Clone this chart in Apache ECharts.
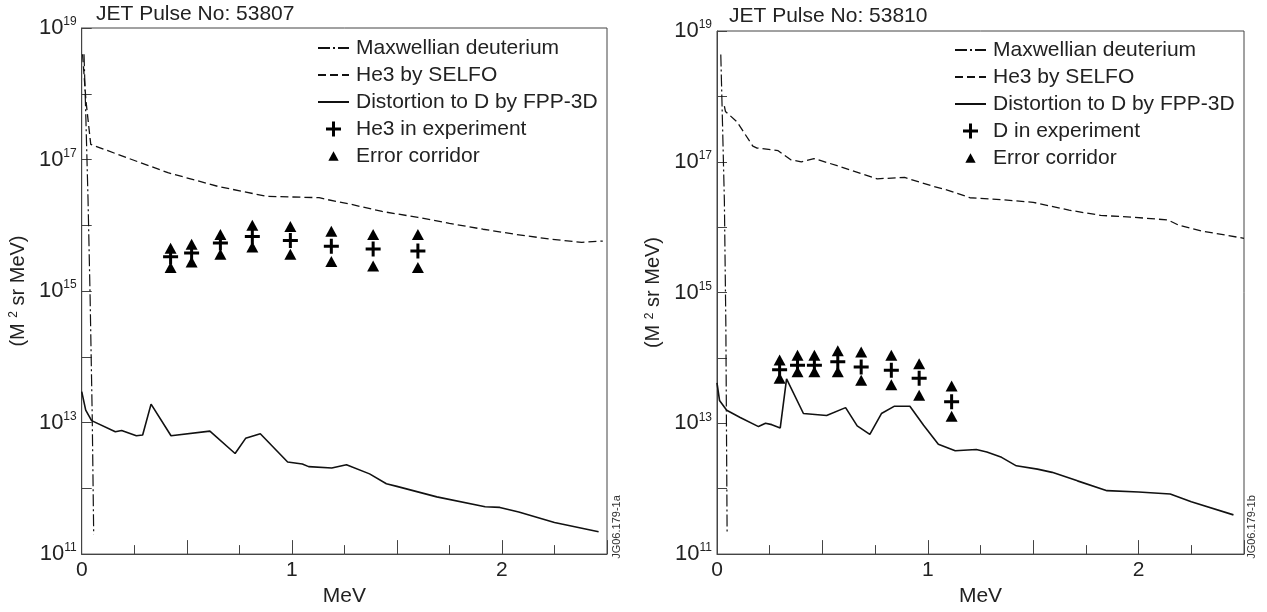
<!DOCTYPE html>
<html>
<head>
<meta charset="utf-8">
<script src="https://cdn.jsdelivr.net/npm/echarts@6/dist/echarts.min.js"></script>
<style>
    html, body { margin: 0; padding: 0; background: #fff; }
    #chart-a { position: absolute; left: 0; top: 0; width: 634px; height: 612px; }
    #chart-b { position: absolute; left: 634px; top: 0; width: 633px; height: 612px; }
</style>
</head>
<body>
<div id="chart-a"></div>
<div id="chart-b"></div>
<script>
// values: [energy MeV, log10 of distribution]
var maxwellA = [[0.011, 18.6], [0.02, 17.6], [0.03, 16.4], [0.04, 14.9], [0.05, 13.1], [0.057, 11.3]];
var selfoA = [[0.004, 18.6], [0.02, 17.9], [0.043, 17.23], [0.17, 17.08], [0.41, 16.80], [0.65, 16.59],
    [0.88, 16.44], [1.13, 16.42], [1.17, 16.39], [1.28, 16.32], [1.43, 16.21], [1.60, 16.12], [1.75, 16.03],
    [1.91, 15.94], [2.07, 15.86], [2.23, 15.79], [2.38, 15.74], [2.48, 15.76]];
var fppA = [[0, 13.47], [0.019, 13.19], [0.047, 13.03], [0.16, 12.86], [0.19, 12.88], [0.26, 12.80],
    [0.29, 12.81], [0.33, 13.28], [0.425, 12.80], [0.61, 12.87], [0.73, 12.53], [0.78, 12.76], [0.85, 12.83],
    [0.98, 12.40], [1.05, 12.37], [1.08, 12.33], [1.19, 12.31], [1.26, 12.36], [1.37, 12.22], [1.45, 12.07],
    [1.5, 12.03], [1.69, 11.87], [1.92, 11.72], [1.99, 11.71], [2.08, 11.64], [2.25, 11.48], [2.46, 11.34]];
var expEnergyA = [0.423, 0.523, 0.66, 0.812, 0.993, 1.188, 1.387, 1.60];
var expValueA = [15.52, 15.58, 15.73, 15.83, 15.77, 15.68, 15.64, 15.61];
var errHighA = [15.65, 15.71, 15.86, 16.0, 15.98, 15.91, 15.86, 15.86];
var errLowA = [15.36, 15.44, 15.56, 15.67, 15.56, 15.45, 15.38, 15.36];

var maxwellB = [[0.018, 18.64], [0.026, 17.6], [0.035, 16.4], [0.042, 14.5], [0.048, 11.3]];
var selfoB = [[0.035, 17.85], [0.04, 17.77], [0.095, 17.61], [0.17, 17.24], [0.19, 17.21], [0.29, 17.17],
    [0.35, 17.03], [0.40, 17.0], [0.46, 17.05], [0.57, 16.94], [0.76, 16.74], [0.89, 16.76], [1.03, 16.62],
    [1.10, 16.56], [1.20, 16.45], [1.35, 16.42], [1.50, 16.38], [1.67, 16.26], [1.82, 16.18], [1.98, 16.15],
    [2.14, 16.11], [2.19, 16.03], [2.30, 15.94], [2.50, 15.83]];
var fppB = [[0, 13.62], [0.012, 13.35], [0.046, 13.2], [0.11, 13.09], [0.197, 12.95], [0.23, 13.0],
    [0.26, 12.98], [0.30, 12.93], [0.33, 13.68], [0.41, 13.15], [0.52, 13.12], [0.61, 13.24], [0.665, 12.96],
    [0.725, 12.83], [0.78, 13.15], [0.84, 13.26], [0.915, 13.26], [0.98, 12.97], [1.05, 12.68], [1.13, 12.58],
    [1.23, 12.6], [1.28, 12.56], [1.35, 12.48], [1.42, 12.35], [1.52, 12.3], [1.59, 12.25], [1.71, 12.12],
    [1.85, 11.97], [2.0, 11.95], [2.15, 11.92], [2.25, 11.8], [2.45, 11.6]];
var expEnergyB = [0.297, 0.382, 0.462, 0.573, 0.684, 0.827, 0.959, 1.113];
var expValueB = [13.82, 13.89, 13.89, 13.94, 13.86, 13.81, 13.69, 13.33];
var errHighB = [13.97, 14.04, 14.04, 14.11, 14.09, 14.04, 13.91, 13.57];
var errLowB = [13.69, 13.79, 13.79, 13.79, 13.66, 13.59, 13.43, 13.11];

var FONT = "'Liberation Sans', Arial, Helvetica, sans-serif";
var INK = '#111';
var CROSS = 'path://M0,6H15V9H0Z M6,0H9V15H6Z';
var TRI_ICON = 'path://M0,0M16,16M8,3L13.5,13H2.5Z';

initCharts();

function initCharts() {
    var chartA = echarts.init(document.getElementById('chart-a'));
    var chartB = echarts.init(document.getElementById('chart-b'));

    chartA.setOption(genOption({
        title: 'JET Pulse No: 53807', titleLeft: 96, titleTop: 4,
        grid: { left: 81, top: 28, width: 526, height: 530 },
        legendLeft: 317, legendTop: 37, expName: 'He3 in experiment',
        maxwell: maxwellA, selfo: selfoA, fpp: fppA,
        expE: expEnergyA, exp: expValueA, hi: errHighA, lo: errLowA,
        code: 'JG06.179-1a', codeX: 617
    }));
    chartB.setOption(genOption({
        title: 'JET Pulse No: 53810', titleLeft: 95, titleTop: 6,
        grid: { left: 83, top: 31, width: 527, height: 528 },
        legendLeft: 320, legendTop: 39, expName: 'D in experiment',
        maxwell: maxwellB, selfo: selfoB, fpp: fppB,
        expE: expEnergyB, exp: expValueB, hi: errHighB, lo: errLowB,
        code: 'JG06.179-1b', codeX: 618
    }));
}

function toPoints(pairs) {
    return pairs.map(function (p) { return [p[0], Math.pow(10, p[1])]; });
}

function zipPoints(xs, ys) {
    return xs.map(function (x, i) { return [x, Math.pow(10, ys[i])]; });
}

function genOption(c) {
    var noDot = { opacity: 0 };
    return {
        animation: false,
        textStyle: { fontFamily: FONT },
        title: {
            text: c.title, left: c.titleLeft, top: c.titleTop, padding: 0,
            textStyle: { fontSize: 21, fontWeight: 'normal', color: '#222', fontFamily: FONT }
        },
        legend: {
            orient: 'vertical', left: c.legendLeft, top: c.legendTop, padding: 0,
            itemWidth: 31, itemHeight: 15, itemGap: 5, selectedMode: false,
            textStyle: { fontSize: 21, color: '#222', lineHeight: 22, fontFamily: FONT, padding: [0, 0, 0, 2] },
            data: [
                { name: 'Maxwellian deuterium', itemStyle: noDot },
                { name: 'He3 by SELFO', itemStyle: noDot },
                { name: 'Distortion to D by FPP-3D', itemStyle: noDot },
                { name: c.expName, icon: CROSS, itemStyle: { color: '#000', opacity: 1 } },
                { name: 'Error corridor', icon: TRI_ICON, itemStyle: { color: '#000', opacity: 1 } }
            ]
        },
        grid: {
            left: c.grid.left, top: c.grid.top, width: c.grid.width, height: c.grid.height,
            show: true, borderColor: '#444', borderWidth: 1
        },
        xAxis: {
            type: 'value', min: 0, max: 2.5, interval: 0.5,
            name: 'MeV', nameLocation: 'middle', nameGap: 29,
            nameTextStyle: { fontSize: 21, color: '#222', fontFamily: FONT },
            axisLine: { lineStyle: { color: '#444', width: 1 } },
            axisTick: { inside: true, length: 14, lineStyle: { color: '#444' } },
            minorTick: { show: true, splitNumber: 2, length: 9, lineStyle: { color: '#444' } },
            splitLine: { show: false },
            axisLabel: {
                fontSize: 21, color: '#222', margin: 6, fontFamily: FONT,
                formatter: function (v) { return Number.isInteger(v) ? String(v) : ''; }
            }
        },
        yAxis: {
            type: 'log', logBase: 10, min: 1e11, max: 1e19,
            name: '(M {s|2} sr MeV)', nameLocation: 'middle', nameGap: 50,
            nameTextStyle: {
                fontSize: 20, color: '#222', fontFamily: FONT,
                rich: { s: { fontSize: 12, lineHeight: 12, verticalAlign: 'top', color: '#222' } }
            },
            axisLine: { lineStyle: { color: '#444', width: 1 } },
            axisTick: { inside: true, length: 10, lineStyle: { color: '#444' } },
            splitLine: { show: false },
            axisLabel: {
                margin: 5, color: '#222',
                formatter: function (v) {
                    var e = Math.round(Math.log10(v));
                    return e % 2 ? '{b|10}{s|' + e + '}' : '';
                },
                rich: {
                    b: { fontSize: 22, lineHeight: 24, color: '#222', fontFamily: FONT },
                    s: { fontSize: 12, lineHeight: 12, verticalAlign: 'top', color: '#222', fontFamily: FONT }
                }
            }
        },
        graphic: [{
            type: 'text', x: c.codeX, y: 527, rotation: Math.PI / 2,
            style: { text: c.code, fontSize: 11, fill: '#333', align: 'center', verticalAlign: 'middle', fontFamily: FONT }
        }],
        series: [{
            name: 'Maxwellian deuterium', type: 'line', symbol: 'none',
            lineStyle: { color: INK, width: 1.2, type: [12, 3, 2, 3] },
            itemStyle: { color: INK },
            data: toPoints(c.maxwell)
        }, {
            name: 'He3 by SELFO', type: 'line', symbol: 'none',
            lineStyle: { color: INK, width: 1.3, type: [8, 4] },
            itemStyle: { color: INK },
            data: toPoints(c.selfo)
        }, {
            name: 'Distortion to D by FPP-3D', type: 'line', symbol: 'none',
            lineStyle: { color: INK, width: 1.6 },
            itemStyle: { color: INK },
            data: toPoints(c.fpp)
        }, {
            name: 'Error corridor', type: 'scatter', symbol: 'triangle', symbolSize: [12, 11],
            itemStyle: { color: '#000', opacity: 1 },
            data: zipPoints(c.expE, c.hi).concat(zipPoints(c.expE, c.lo))
        }, {
            name: c.expName, type: 'scatter', symbol: CROSS, symbolSize: 15,
            itemStyle: { color: '#000', opacity: 1 }, z: 3,
            data: zipPoints(c.expE, c.exp)
        }]
    };
}
</script>
</body>
</html>
